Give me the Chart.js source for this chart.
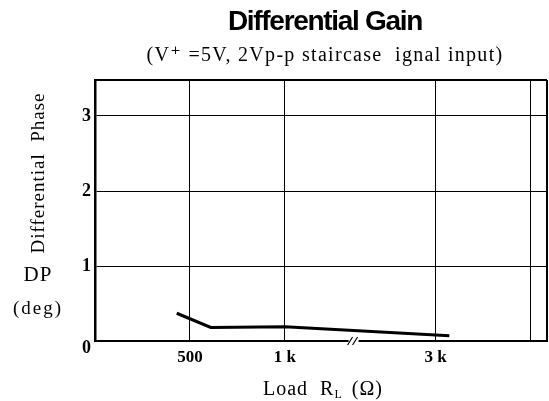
<!DOCTYPE html>
<html>
<head>
<meta charset="utf-8">
<script src="https://cdn.jsdelivr.net/npm/chart.js@4"></script>
<style>
  html, body { margin: 0; padding: 0; background: #fff; }
  #wrap { width: 549px; height: 401px; }
</style>
</head>
<body>
<div id="wrap"><canvas id="chart"></canvas></div>
<script>
// load resistance (ohm) and differential phase (deg)
const loads = [454, 582, 1000, 3320];
const phase = [0.37, 0.18, 0.19, 0.07];

// grid lines on the load axis, and what is printed under them
const xTicks = [500, 1000, 3000, 6000];
const xTickLabels = ['500', '1 k', '3 k', ''];
const yTicks = [0, 1, 2, 3];

const serif = '"Liberation Serif", "DejaVu Serif", serif';

// titles, the rotated y caption and the axis break mark
const textPlugin = {
    id: 'texts',
    afterDraw(chart) {
        const ctx = chart.ctx;
        const area = chart.chartArea;
        ctx.save();
        ctx.fillStyle = '#000';
        ctx.textAlign = 'center';
        ctx.textBaseline = 'middle';

        ctx.font = 'bold 28px "Liberation Sans", Arial, sans-serif';
        ctx.letterSpacing = '-1.3px';
        ctx.fillText('Differential Gain', 325, 22);

        ctx.font = '20px ' + serif;
        ctx.letterSpacing = '1.3px';
        ctx.fillText('(V\u207A =5V, 2Vp-p staircase  ignal input)', 325, 56);

        ctx.save();
        ctx.translate(39, 173);
        ctx.rotate(-Math.PI / 2);
        ctx.font = '19px ' + serif;
        ctx.letterSpacing = '1px';
        ctx.fillText('Differential  Phase', 0, 0);
        ctx.restore();

        ctx.font = '21px ' + serif;
        ctx.letterSpacing = '1px';
        ctx.fillText('DP', 38, 275);
        ctx.font = '19px ' + serif;
        ctx.letterSpacing = '2px';
        ctx.fillText('(deg)', 38, 309);

        // the 0 of the y axis sits a little under the axis line
        ctx.textAlign = 'right';
        ctx.letterSpacing = '0px';
        ctx.font = 'bold 18px ' + serif;
        ctx.fillText('0', area.left - 4, area.bottom + 7);

        // x axis caption with subscript
        ctx.textAlign = 'left';
        ctx.font = '20px ' + serif;
        ctx.letterSpacing = '1px';
        let x = 263;
        const y = 390;
        ctx.fillText('Load  R', x, y);
        x += ctx.measureText('Load  R').width;
        ctx.font = '12px ' + serif;
        ctx.fillText('L', x, y + 5);
        x += ctx.measureText('L').width + 9;
        ctx.font = '20px ' + serif;
        ctx.fillText('(\u03A9)', x, y);
        ctx.letterSpacing = '0px';

        // axis break "//"
        const bx = chart.scales.x.getPixelForValue(1650);
        const by = area.bottom;
        ctx.fillStyle = '#fff';
        ctx.fillRect(bx - 5, by - 2, 10, 4);
        ctx.strokeStyle = '#000';
        ctx.lineWidth = 1.2;
        ctx.beginPath();
        ctx.moveTo(bx - 6, by + 4); ctx.lineTo(bx - 1, by - 4);
        ctx.moveTo(bx - 1, by + 4); ctx.lineTo(bx + 4, by - 4);
        ctx.stroke();

        ctx.restore();
    }
};

new Chart(document.getElementById('chart'), {
    type: 'line',
    data: {
        datasets: [{
            data: loads.map((r, i) => ({ x: r, y: phase[i] })),
            borderColor: '#000',
            borderWidth: 3,
            pointRadius: 0,
            tension: 0,
            fill: false
        }]
    },
    options: {
        responsive: true,
        maintainAspectRatio: false,
        animation: false,
        layout: { padding: { top: 80, right: 2, left: 0, bottom: 0 } },
        plugins: {
            legend: { display: false },
            title: { display: false },
            tooltip: { enabled: false }
        },
        scales: {
            x: {
                type: 'logarithmic',
                min: 250,
                max: 6770,
                afterBuildTicks(scale) {
                    scale.ticks = xTicks.map(v => ({ value: v }));
                },
                afterFit(scale) { scale.height = 60; },
                ticks: {
                    autoSkip: false,
                    maxRotation: 0,
                    padding: 6,
                    color: '#000',
                    font: { family: serif, size: 17, weight: 'bold' },
                    callback: (v, i) => xTickLabels[i]
                },
                grid: { color: '#000', lineWidth: 1, drawTicks: false },
                border: { color: '#000', width: 2 }
            },
            y: {
                min: 0,
                max: 3.48,
                afterBuildTicks(scale) {
                    scale.ticks = yTicks.map(v => ({ value: v }));
                },
                afterFit(scale) { scale.width = 95; },
                ticks: {
                    padding: 4,
                    color: '#000',
                    font: { family: serif, size: 18, weight: 'bold' },
                    callback: v => (v === 0 ? '' : v)
                },
                grid: { color: '#000', lineWidth: 1, drawTicks: false },
                border: { color: '#000', width: 2.5 }
            }
        }
    },
    plugins: [textPlugin, {
        id: 'frame',
        afterDraw(chart) {
            const { ctx, chartArea: a } = chart;
            ctx.save();
            ctx.strokeStyle = '#000';
            ctx.lineWidth = 2;
            ctx.beginPath();
            ctx.moveTo(a.left, a.top);
            ctx.lineTo(a.right, a.top);
            ctx.moveTo(a.right, a.top);
            ctx.lineTo(a.right, a.bottom);
            ctx.stroke();
            ctx.restore();
        }
    }]
});
</script>
</body>
</html>
